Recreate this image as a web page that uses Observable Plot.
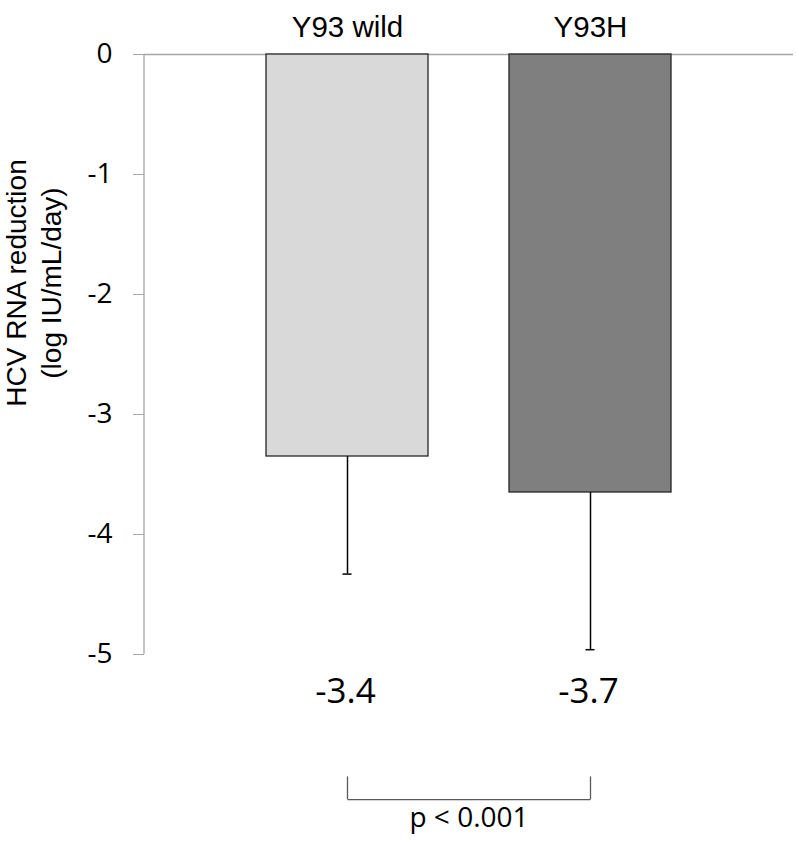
<!DOCTYPE html>
<html>
<head>
<meta charset="utf-8">
<script src="https://cdn.jsdelivr.net/npm/d3@7"></script>
<script src="https://cdn.jsdelivr.net/npm/@observablehq/plot@0.6"></script>
<style>
  html, body { margin: 0; padding: 0; background: #fff; overflow: hidden; }
</style>
</head>
<body>
<div id="chart"></div>
<script>
const groups = ["Y93 wild", "Y93H"];
const means = [-3.35, -3.65];
const errorLows = [-4.33, -4.96];
const valueLabels = ["-3.4", "-3.7"];
const fills = ["#d9d9d9", "#7f7f7f"];
const yTicks = [0, -1, -2, -3, -4, -5];
const yTitle = "HCV RNA reduction\n(log IU/mL/day)";
const pText = "p < 0.001";
const bracketLevels = [-6.02, -6.21];

const data = groups.map((g, i) => ({
  group: g, mean: means[i], low: errorLows[i], label: valueLabels[i], fill: fills[i]
}));

const numFont = "'Open Sans', 'DejaVu Sans', sans-serif";
const sansFont = "'Liberation Sans', Arial, sans-serif";

const chart = Plot.plot({
  width: 796,
  height: 844,
  marginLeft: 144,
  marginRight: 3,
  marginTop: 54,
  marginBottom: 190,
  style: { fontFamily: numFont, background: "#fff", overflow: "visible" },
  x: { domain: groups, paddingInner: 0.333, paddingOuter: 0.5, axis: null },
  y: { domain: [-5, 0], ticks: yTicks, axis: null },
  marks: [
    Plot.axisY({
      ticks: yTicks, tickSize: 11, tickPadding: 21, stroke: "#a6a6a6",
      fontSize: 28, fill: "#000", tickFormat: d => d === 0 ? "0" : "-" + Math.abs(d),
      label: null, fontFamily: numFont
    }),
    (index, scales, values, dims) => {
      const ns = "http://www.w3.org/2000/svg";
      const l = document.createElementNS(ns, "line");
      l.setAttribute("x1", dims.marginLeft);
      l.setAttribute("x2", dims.marginLeft);
      l.setAttribute("y1", scales.y(0));
      l.setAttribute("y2", scales.y(-5));
      l.setAttribute("stroke", "#a6a6a6");
      l.setAttribute("stroke-width", 1.3);
      return l;
    },
    Plot.ruleY([0], { stroke: "#a6a6a6", strokeWidth: 1.3 }),
    Plot.barY(data, {
      x: "group", y1: 0, y2: "mean", fill: "fill",
      stroke: "#262626", strokeWidth: 1.3
    }),
    Plot.ruleX(data, { x: "group", y1: "mean", y2: "low", stroke: "#000", strokeWidth: 1.5 }),
    Plot.tickY(data, { x: "group", y: "low", stroke: "#000", strokeWidth: 1.5, insetLeft: 76.5, insetRight: 76.5 }),
    Plot.text(data, {
      x: "group", text: "group", frameAnchor: "top", dy: -38,
      fontSize: 29.5, fontFamily: sansFont, fill: "#000"
    }),
    Plot.text(data, {
      x: "group", text: "label", frameAnchor: "bottom", dy: 48, dx: -2,
      fontSize: 35, fontFamily: numFont, fill: "#000"
    }),
    Plot.ruleX(data, { x: "group", y1: bracketLevels[0], y2: bracketLevels[1], stroke: "#595959", strokeWidth: 1.3 }),
    Plot.link([0], {
      x1: () => groups[0], x2: () => groups[1],
      y1: () => bracketLevels[1], y2: () => bracketLevels[1],
      stroke: "#595959", strokeWidth: 1.3
    }),
    Plot.text([pText], {
      text: d => d, frameAnchor: "bottom", dy: 172.5,
      fontSize: 28, fontFamily: numFont, fill: "#000"
    }),
    Plot.text([yTitle], {
      text: d => d, frameAnchor: "left", textAnchor: "middle", lineAnchor: "middle",
      rotate: -90, dx: -112.4, dy: -71.5,
      lineHeight: 1.25, fontSize: 28, fontFamily: sansFont, fill: "#000"
    })
  ]
});

document.getElementById("chart").appendChild(chart);
</script>
</body>
</html>
